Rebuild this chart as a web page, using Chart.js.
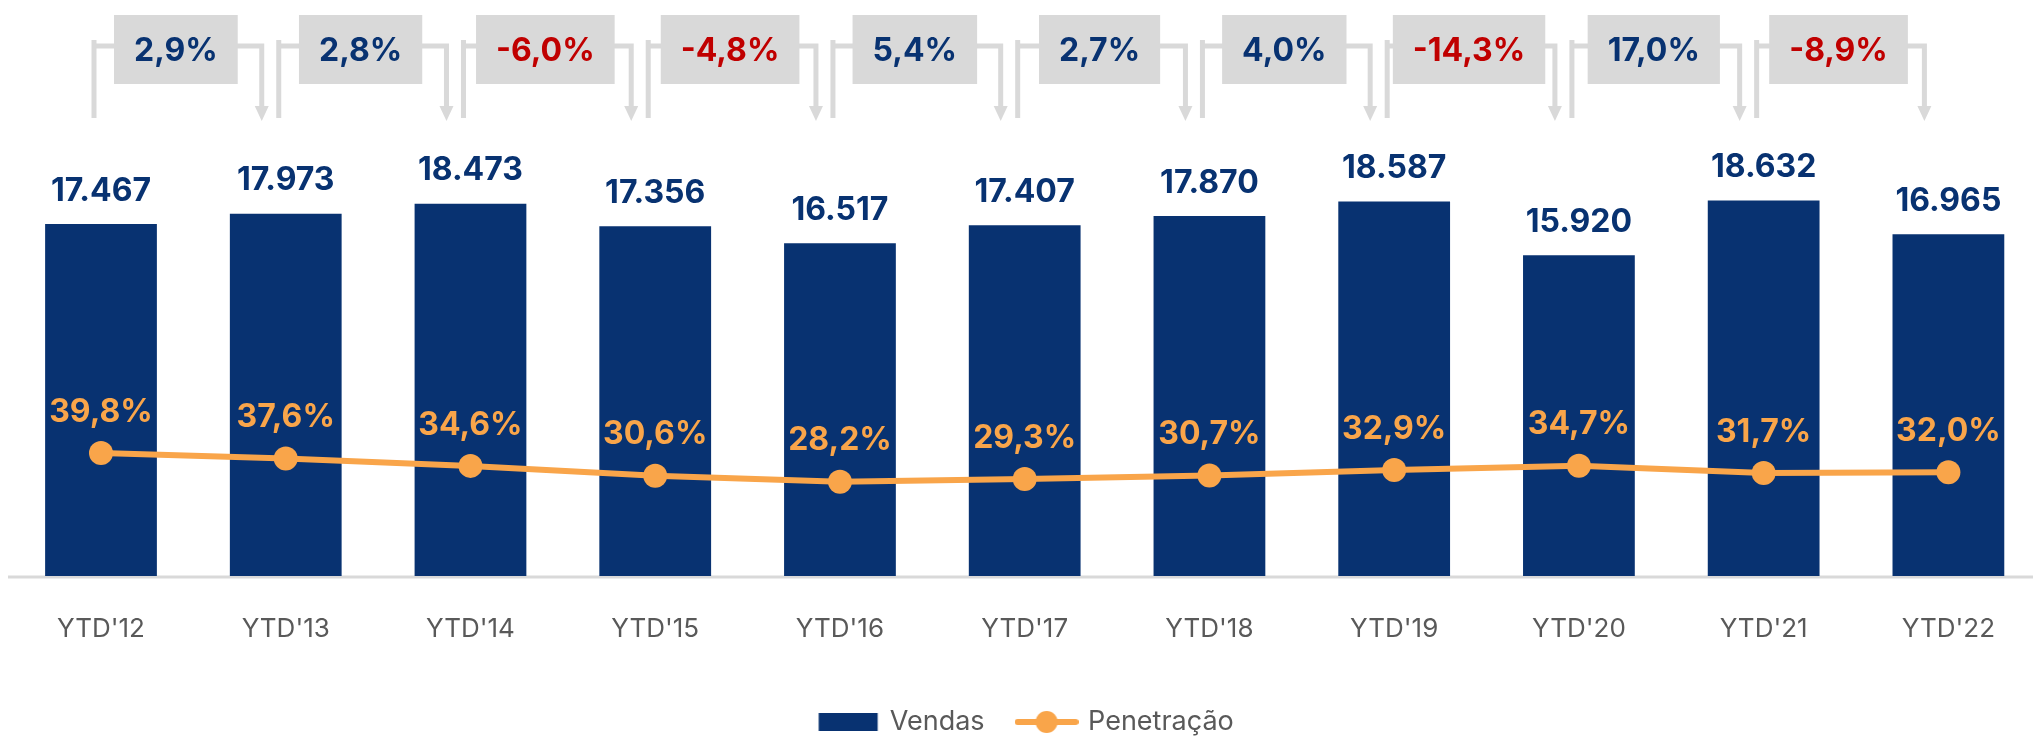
<!DOCTYPE html>
<html>
<head>
<meta charset="utf-8">
<script src="https://cdn.jsdelivr.net/npm/chart.js@4/dist/chart.umd.min.js"></script>
<style>
  html, body { margin: 0; padding: 0; background: #fff; }
  #wrap { width: 2033px; height: 737px; }
</style>
</head>
<body>
<div id="wrap"><canvas id="chart"></canvas></div>
<script>
const labels = ["YTD'12", "YTD'13", "YTD'14", "YTD'15", "YTD'16", "YTD'17", "YTD'18", "YTD'19", "YTD'20", "YTD'21", "YTD'22"];
const vendas = [17467, 17973, 18473, 17356, 16517, 17407, 17870, 18587, 15920, 18632, 16965];
const penetracao = [39.8, 37.6, 34.6, 30.6, 28.2, 29.3, 30.7, 32.9, 34.7, 31.7, 32.0];
// year over year change shown in the grey boxes
const crescimento = [2.9, 2.8, -6.0, -4.8, 5.4, 2.7, 4.0, -14.3, 17.0, -8.9];

const NAVY = '#083271';
const ORANGE = '#F9A54A';
const RED = '#C00000';
const GREY = '#D9D9D9';
const TEXT = '#595959';
const FONT = 'Inter';

Chart.defaults.font.family = FONT;

const milhar = v => String(v).replace(/\B(?=(\d{3})+(?!\d))/g, '.');
const pct = v => v.toFixed(1).replace('.', ',') + '%';

function legendIcon(kind) {
    const c = document.createElement('canvas');
    c.width = 64;
    c.height = 24;
    const g = c.getContext('2d');
    if (kind === 'bar') {
        g.fillStyle = NAVY;
        g.fillRect(2.5, 3, 59, 18);
    } else {
        g.strokeStyle = ORANGE;
        g.lineWidth = 6;
        g.lineCap = 'round';
        g.beginPath();
        g.moveTo(3, 12);
        g.lineTo(61, 12);
        g.stroke();
        g.fillStyle = ORANGE;
        g.beginPath();
        g.arc(32, 12, 11, 0, Math.PI * 2);
        g.fill();
    }
    return c;
}
const icons = [legendIcon('bar'), legendIcon('line')];

// value labels above bars and line points
const valueLabels = {
    id: 'valueLabels',
    afterDatasetsDraw(chart) {
        const ctx = chart.ctx;
        ctx.save();
        ctx.textAlign = 'center';
        ctx.textBaseline = 'middle';
        ctx.font = 'bold 32px ' + FONT;
        ctx.fillStyle = NAVY;
        chart.getDatasetMeta(1).data.forEach((el, i) => {
            ctx.fillText(milhar(vendas[i]), el.x, el.y - 33);
        });
        ctx.fillStyle = ORANGE;
        chart.getDatasetMeta(0).data.forEach((el, i) => {
            ctx.fillText(pct(penetracao[i]), el.x, el.y - 41);
        });
        ctx.restore();
    }
};

// baseline across the whole width + growth brackets on top
const decor = {
    id: 'decor',
    beforeDatasetsDraw(chart) {
        const ctx = chart.ctx;
        const y0 = chart.scales.y.getPixelForValue(0);
        ctx.save();
        ctx.strokeStyle = GREY;
        ctx.lineWidth = 3;
        ctx.beginPath();
        ctx.moveTo(8, y0 + 1);
        ctx.lineTo(chart.width, y0 + 1);
        ctx.stroke();
        ctx.restore();
    },
    afterDraw(chart) {
        const ctx = chart.ctx;
        const x = chart.scales.x;
        ctx.save();
        ctx.font = 'bold 32px ' + FONT;
        ctx.textAlign = 'center';
        ctx.textBaseline = 'middle';
        crescimento.forEach((g, i) => {
            const xa = x.getPixelForValue(i) - 7;
            const xb = x.getPixelForValue(i + 1) - 24;
            ctx.strokeStyle = GREY;
            ctx.fillStyle = GREY;
            ctx.lineWidth = 5;
            ctx.beginPath();
            ctx.moveTo(xa, 118);
            ctx.lineTo(xa, 40);
            ctx.moveTo(xa - 2.5, 46);
            ctx.lineTo(xb + 2.5, 46);
            ctx.moveTo(xb, 43.5);
            ctx.lineTo(xb, 108);
            ctx.stroke();
            ctx.beginPath();
            ctx.moveTo(xb - 7, 106);
            ctx.lineTo(xb + 7, 106);
            ctx.lineTo(xb, 121);
            ctx.closePath();
            ctx.fill();

            const txt = pct(g);
            const w = ctx.measureText(txt).width + 40;
            const cx = (xa + xb) / 2 - 2;
            ctx.fillRect(cx - w / 2, 15, w, 69);
            ctx.fillStyle = g < 0 ? RED : NAVY;
            ctx.fillText(txt, cx, 51);
        });
        ctx.restore();
    }
};

const ctx = document.getElementById('chart').getContext('2d');
new Chart(ctx, {
    type: 'bar',
    data: {
        labels: labels,
        datasets: [
            {
                type: 'line',
                label: 'Penetração',
                data: penetracao,
                yAxisID: 'y1',
                borderColor: ORANGE,
                backgroundColor: ORANGE,
                borderWidth: 6,
                pointRadius: 12,
                pointHoverRadius: 12,
                pointBackgroundColor: ORANGE,
                pointBorderWidth: 0,
                tension: 0,
                clip: false,
                order: 0
            },
            {
                label: 'Vendas',
                data: vendas,
                yAxisID: 'y',
                backgroundColor: NAVY,
                barPercentage: 0.605,
                categoryPercentage: 1,
                clip: false,
                order: 1
            }
        ]
    },
    options: {
        responsive: true,
        maintainAspectRatio: false,
        animation: false,
        layout: {
            padding: { left: 101, right: 80, top: 92.4, bottom: -8.5 }
        },
        plugins: {
            tooltip: { enabled: false },
            legend: {
                position: 'bottom',
                labels: {
                    usePointStyle: true,
                    pointStyleWidth: 56,
                    padding: 34,
                    color: TEXT,
                    font: { size: 27 },
                    generateLabels: chart => ['Vendas', 'Penetração'].map((t, i) => ({
                        text: t,
                        pointStyle: icons[i],
                        fillStyle: i === 0 ? NAVY : ORANGE,
                        strokeStyle: 'transparent',
                        lineWidth: 0,
                        hidden: false,
                        fontColor: TEXT,
                        datasetIndex: i === 0 ? 1 : 0
                    }))
                }
            }
        },
        scales: {
            x: {
                offset: false,
                grid: { display: false, drawTicks: false },
                border: { display: false },
                ticks: { color: TEXT, font: { size: 26 }, padding: 38 },
                afterFit: axis => { axis.height = 98.5; }
            },
            y: {
                display: false,
                min: 0,
                max: 24000
            },
            y1: {
                display: false,
                min: -9.8,
                max: 185.2
            }
        }
    },
    plugins: [decor, valueLabels]
});
</script>
</body>
</html>
